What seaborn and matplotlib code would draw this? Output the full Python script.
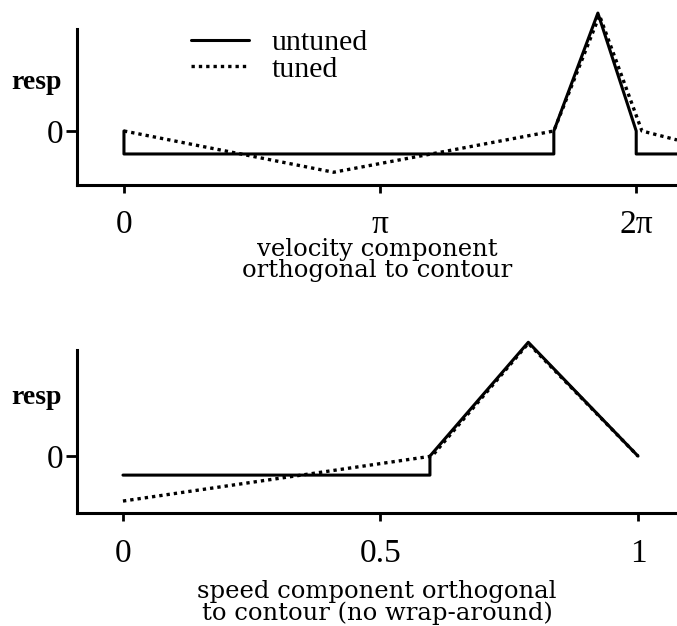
import numpy as np
import pandas as pd
import matplotlib
matplotlib.use("Agg")
import matplotlib.pyplot as plt
import seaborn as sns

# top panel: direction (radians), response
velUntunedX = [0.0, 0.0, 5.27, 5.27, 5.81, 6.28, 6.28, 6.78]
velUntunedY = [0.0, -0.195, -0.195, 0.0, 1.0, 0.0, -0.195, -0.195]
velTunedX = [0.0, 2.57, 5.27, 5.83, 6.35, 6.78]
velTunedY = [0.0, -0.35, 0.0, 0.98, 0.0, -0.076]
velTicks = [0.0, 3.1416, 6.2832]
velTickLabels = ["0", "\u03c0", "2\u03c0"]

# bottom panel: speed, response
spdUntunedX = [0.0, 0.596, 0.596, 0.787, 1.0]
spdUntunedY = [-0.167, -0.167, 0.0, 1.0, 0.0]
spdTunedX = [0.0, 0.6, 0.787, 1.0]
spdTunedY = [-0.395, 0.0, 0.99, 0.0]
spdTicks = [0.0, 0.5, 1.0]
spdTickLabels = ["0", "0.5", "1"]

seriesNames = ["untuned", "tuned"]

sns.set_style("ticks", {"axes.edgecolor": "black", "text.color": "black",
                        "xtick.color": "black", "ytick.color": "black"})
plt.rcParams["font.family"] = ["DejaVu Serif"]

fig = plt.figure(figsize=(6.77, 6.26), dpi=100)
axTop = fig.add_axes([0.1137, 0.7045, 0.8863, 0.249])
axBot = fig.add_axes([0.1137, 0.1805, 0.8863, 0.260])

lineKw = dict(color="black", sort=False, estimator=None, clip_on=False)
tickFont = dict(family="Liberation Serif", size=24, color="black")


def drawPanel(ax, ux, uy, tx, ty, ticks, tickLabels, xlim, ylim, xlabel, labelPad, legend):
    sns.lineplot(x=ux, y=uy, ax=ax, lw=2.2, label=seriesNames[0], **lineKw)
    sns.lineplot(x=tx, y=ty, ax=ax, lw=2.4, linestyle=(0, (1, 1.2)),
                 label=seriesNames[1], **lineKw)
    ax.set_xlim(*xlim)
    ax.set_ylim(*ylim)
    sns.despine(ax=ax)
    for side in ["left", "bottom"]:
        ax.spines[side].set_linewidth(2.2)
        ax.spines[side].set_color("black")
    ax.set_xticks(ticks)
    ax.set_xticklabels(tickLabels, fontdict=tickFont)
    ax.set_yticks([0])
    ax.set_yticklabels(["0"], fontdict=tickFont)
    ax.tick_params(axis="x", length=6, width=2, pad=12, colors="black")
    ax.tick_params(axis="y", length=8, width=2, pad=2, colors="black")
    ax.set_xlabel(xlabel, fontsize=17.5, linespacing=0.92, labelpad=labelPad,
                  color="black")
    ax.set_ylabel("resp", rotation=0, fontsize=20, fontweight="bold",
                  family="Liberation Serif", ha="center", va="center",
                  color="black")
    if legend:
        ax.legend(loc="upper left", bbox_to_anchor=(0.19, 1.0), frameon=False,
                  prop={"family": "Liberation Serif", "size": 21.5},
                  handlelength=1.95, handletextpad=0.75, labelspacing=0.0,
                  borderpad=0, borderaxespad=0)
    else:
        ax.get_legend().remove()


drawPanel(axTop, velUntunedX, velUntunedY, velTunedX, velTunedY,
          velTicks, velTickLabels, (-0.576, 6.78), (-0.458, 0.864),
          "velocity component\northogonal to contour", -2, True)
axTop.yaxis.set_label_coords(-0.067, 0.66)

drawPanel(axBot, spdUntunedX, spdUntunedY, spdTunedX, spdTunedY,
          spdTicks, spdTickLabels, (-0.0893, 1.0757), (-0.5, 0.93),
          "speed component orthogonal\nto contour (no wrap-around)", 8, False)
axBot.yaxis.set_label_coords(-0.067, 0.71)

fig.savefig("out.png", dpi=100)
